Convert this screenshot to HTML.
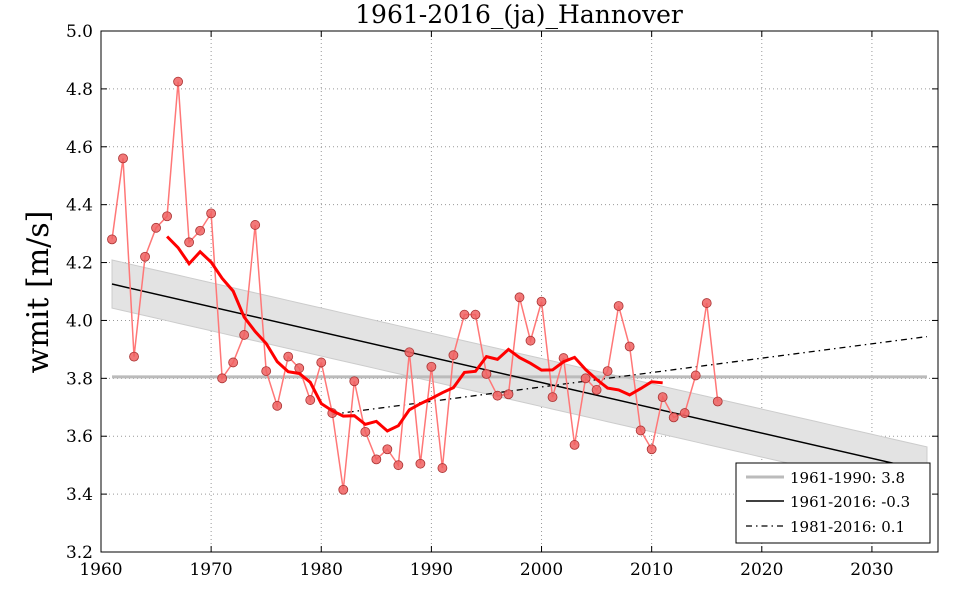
<!DOCTYPE html>
<html><head><meta charset="utf-8"><style>
html,body{margin:0;padding:0;background:#fff;}
svg text{font-family:"DejaVu Serif","Liberation Serif",serif;}
</style></head><body>
<svg id="s" width="960" height="600" xmlns="http://www.w3.org/2000/svg"></svg>
<script>
const data=[4.28,4.56,3.875,4.22,4.32,4.36,4.825,4.27,4.31,4.37,3.80,3.855,3.95,4.33,3.825,3.705,3.875,3.835,3.725,3.855,3.68,3.415,3.79,3.615,3.52,3.555,3.50,3.89,3.505,3.84,3.49,3.88,4.02,4.02,3.815,3.74,3.745,4.08,3.93,4.065,3.735,3.87,3.57,3.80,3.76,3.825,4.05,3.91,3.62,3.555,3.735,3.665,3.68,3.81,4.06,3.72];
const X0=101,X1=938,Y0=31,Y1=552;
const X=y=>X0+(y-1960)*(X1-X0)/76, Y=v=>Y1-(v-3.2)*(Y1-Y0)/1.8;
let h='';
h+=`<rect x="${X0}" y="${Y0}" width="${X1-X0}" height="${Y1-Y0}" fill="#fff"/>`;
// grid
for(let yr=1970;yr<=2030;yr+=10)h+=`<line x1="${X(yr)}" x2="${X(yr)}" y1="${Y0}" y2="${Y1}" stroke="#999" stroke-dasharray="1,3" stroke-width="1"/>`;
for(let v=3.4;v<4.95;v+=0.2)h+=`<line x1="${X0}" x2="${X1}" y1="${Y(v)}" y2="${Y(v)}" stroke="#999" stroke-dasharray="1,3" stroke-width="1"/>`;
function reg(a,b){let n=0,sx=0,sy=0,sxx=0,sxy=0;for(let y=a;y<=b;y++){const v=data[y-1961];n++;sx+=y;sy+=v;sxx+=y*y;sxy+=y*v;}const m=(n*sxy-sx*sy)/(n*sxx-sx*sx);return [m,(sy-m*sx)/n];}
const [m1,b1]=reg(1961,2016),[m2,b2]=reg(1981,2016);
// band
let up=[],lo=[];for(let y=1961;y<=2035;y++){const c=m1*y+b1,w=0.083+0.00000*(y-1988)**2;up.push(`${X(y)},${Y(c+w)}`);lo.unshift(`${X(y)},${Y(c-w)}`);}
h+=`<polygon points="${up.join(' ')} ${lo.join(' ')}" fill="#e3e3e3" stroke="#ccc" stroke-width="1"/>`;
h+=`<line x1="${X(1961)}" x2="${X(2035)}" y1="${Y(3.805)}" y2="${Y(3.805)}" stroke="#bbb" stroke-width="3"/>`;
h+=`<line x1="${X(1961)}" x2="${X(2035)}" y1="${Y(m1*1961+b1)}" y2="${Y(m1*2035+b1)}" stroke="#000" stroke-width="1.5"/>`;
h+=`<line x1="${X(1981)}" x2="${X(2035)}" y1="${Y(m2*1981+b2)}" y2="${Y(m2*2035+b2)}" stroke="#000" stroke-width="1.3" stroke-dasharray="6,4,1.5,4"/>`;
h+=`<polyline points="${data.map((v,i)=>X(1961+i)+','+Y(v)).join(' ')}" fill="none" stroke="#f77" stroke-width="1.5"/>`;
data.forEach((v,i)=>h+=`<circle cx="${X(1961+i)}" cy="${Y(v)}" r="4.5" fill="#f06060" stroke="#a33" stroke-width="0.8" fill-opacity="0.85"/>`);
let ma=[];for(let y=1966;y<=2011;y++){let s=0;for(let k=-5;k<=5;k++)s+=data[y+k-1961];ma.push(X(y)+','+Y(s/11));}
h+=`<polyline points="${ma.join(' ')}" fill="none" stroke="#f00" stroke-width="3"/>`;
h+=`<rect x="${X0}" y="${Y0}" width="${X1-X0}" height="${Y1-Y0}" fill="none" stroke="#000" stroke-width="1"/>`;
for(let yr=1960;yr<=2030;yr+=10){h+=`<line x1="${X(yr)}" x2="${X(yr)}" y1="${Y1}" y2="${Y1-6}" stroke="#000"/><line x1="${X(yr)}" x2="${X(yr)}" y1="${Y0}" y2="${Y0+6}" stroke="#000"/><text x="${X(yr)}" y="575" font-size="17" text-anchor="middle">${yr}</text>`;}
for(let i=0;i<=9;i++){const v=3.2+i*0.2;h+=`<line x1="${X0}" x2="${X0+6}" y1="${Y(v)}" y2="${Y(v)}" stroke="#000"/><line x1="${X1}" x2="${X1-6}" y1="${Y(v)}" y2="${Y(v)}" stroke="#000"/><text x="93" y="${Y(v)+6}" font-size="17" text-anchor="end">${v.toFixed(1)}</text>`;}
h+=`<text x="519" y="23" font-size="25" text-anchor="middle">1961-2016_(ja)_Hannover</text>`;
h+=`<text transform="translate(48,292) rotate(-90)" font-size="30" text-anchor="middle">wmit [m/s]</text>`;
h+=`<rect x="736" y="463" width="194" height="80" fill="#fff" stroke="#000"/>`;
h+=`<line x1="746" x2="784" y1="477" y2="477" stroke="#bbb" stroke-width="3"/><text x="790" y="483" font-size="15">1961-1990: 3.8</text>`;
h+=`<line x1="746" x2="784" y1="501" y2="501" stroke="#000" stroke-width="1.5"/><text x="790" y="507" font-size="15">1961-2016: -0.3</text>`;
h+=`<line x1="746" x2="784" y1="526" y2="526" stroke="#000" stroke-width="1.3" stroke-dasharray="6,4,1.5,4"/><text x="790" y="532" font-size="15">1981-2016: 0.1</text>`;
document.getElementById('s').innerHTML=h;
</script>
</body></html>
